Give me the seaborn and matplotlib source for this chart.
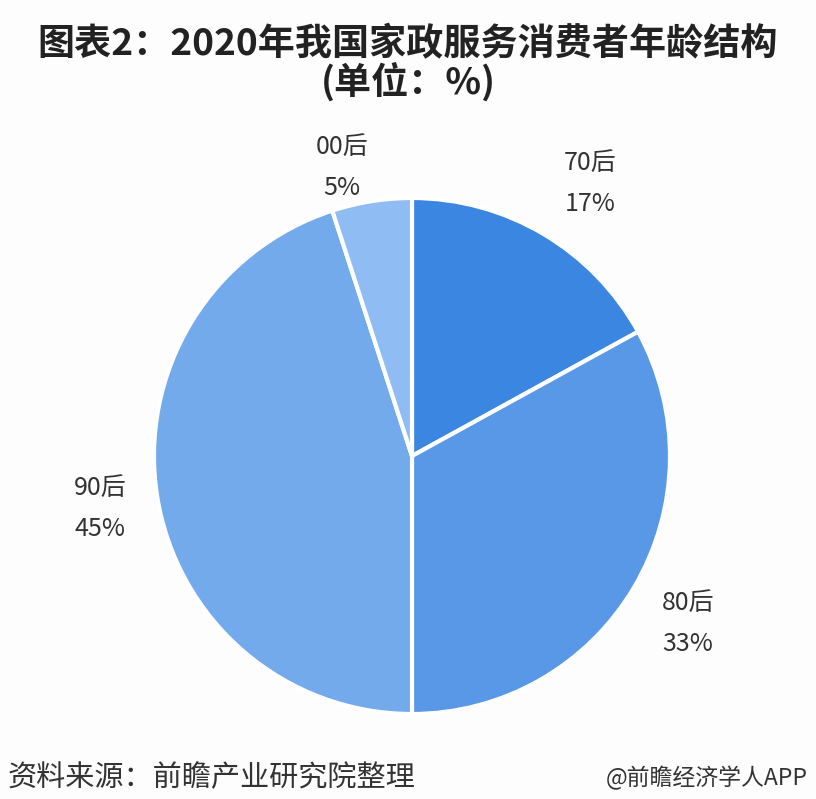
import matplotlib
matplotlib.use("Agg")
import matplotlib.pyplot as plt
import seaborn as sns
import numpy as np

sns.set_theme(style="white")
plt.rcParams['font.family'] = ['Noto Sans CJK SC', 'DejaVu Sans']

categories = ["70后", "80后", "90后", "00后"]
values = [17, 33, 45, 5]
labels_pct = ["17%", "33%", "45%", "5%"]
colors = ["#3b86e0", "#5898e6", "#73aaec", "#8fbcf2"]

fig = plt.figure(figsize=(8.16, 7.99), dpi=100)
fig.patch.set_facecolor("#fdfdfd")
ax = fig.add_axes([(412 - 258) / 816, 1 - (456 + 258) / 799, 516 / 816, 516 / 799])
ax.set_facecolor("none")

wedges, _ = ax.pie(values, colors=colors, startangle=90, counterclock=False,
                   radius=1.0, wedgeprops=dict(edgecolor="white", linewidth=3))
ax.set_aspect("equal")
ax.set_xlim(-1, 1)
ax.set_ylim(-1, 1)
ax.axis("off")

label_r = [1.263, 1.252, 1.227, 1.15]
label_dang = [-2.5, -0.7, 0.6, 4.7]
cum = 0
for i, (cat, v, p) in enumerate(zip(categories, values, labels_pct)):
    mid = 90 - (cum + v / 2) / 100 * 360 + label_dang[i]
    cum += v
    ang = np.deg2rad(mid)
    x, y = label_r[i] * np.cos(ang), label_r[i] * np.sin(ang)
    ax.text(x, y, f"{cat}\n{p}", ha="center", va="center", fontsize=18,
            color="#333333", linespacing=1.75, clip_on=False)

fig.text(0.5, 1 - 45 / 799, "图表2：2020年我国家政服务消费者年龄结构", ha="center", va="center",
         fontsize=26.7, fontweight="bold", color="#222222")
fig.text(0.5, 1 - 82 / 799, "(单位：%)", ha="center", va="center",
         fontsize=26.7, fontweight="bold", color="#222222")
fig.text(8 / 816, 1 - 778 / 799, "资料来源：前瞻产业研究院整理", ha="left", va="center",
         fontsize=21, color="#333333")
fig.text(808 / 816, 1 - 778 / 799, "@前瞻经济学人APP", ha="right", va="center",
         fontsize=16.5, color="#333333")

fig.savefig("out.png", dpi=100, facecolor=fig.get_facecolor())
